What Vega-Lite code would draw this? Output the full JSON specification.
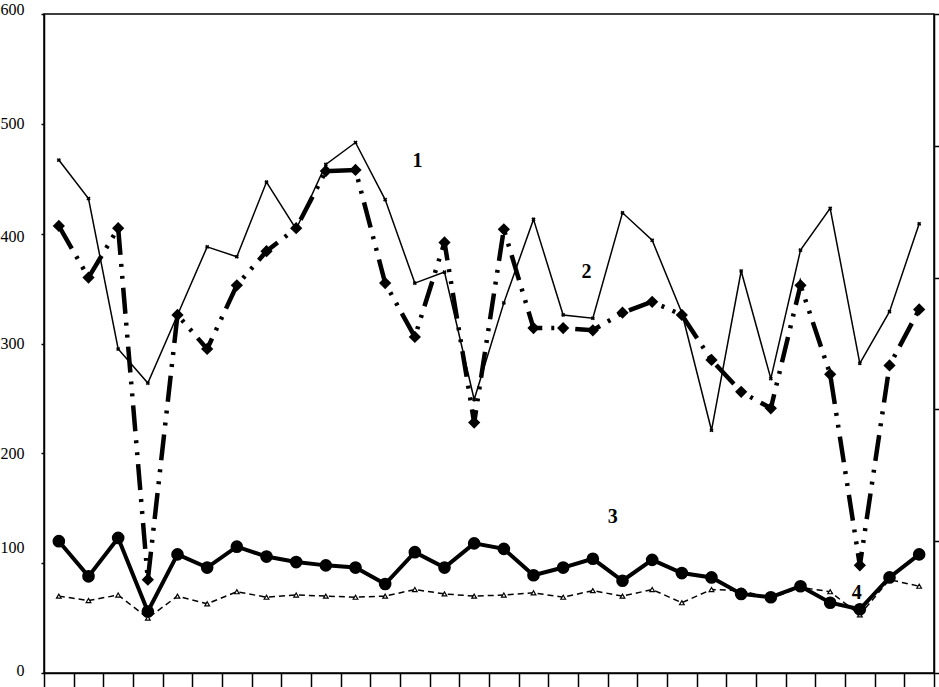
{
  "$schema": "https://vega.github.io/schema/vega-lite/v6.json",
  "autosize": "none",
  "width": 890,
  "height": 659,
  "padding": {"left": 44, "top": 14, "right": 5, "bottom": 14},
  "background": "white",
  "config": {
    "view": {"stroke": "black", "strokeWidth": 1.5},
    "font": "Liberation Serif"
  },
  "resolve": {"axis": {"y": "independent"}},
  "datasets": {
    "main": [
      {"n": 1, "s1": 467, "s2": 407, "s3": 120, "s4": 70},
      {"n": 2, "s1": 432, "s2": 360, "s3": 88, "s4": 66},
      {"n": 3, "s1": 295, "s2": 405, "s3": 123, "s4": 71},
      {"n": 4, "s1": 264, "s2": 85, "s3": 56, "s4": 50},
      {"n": 5, "s1": 326, "s2": 326, "s3": 108, "s4": 70},
      {"n": 6, "s1": 388, "s2": 295, "s3": 96, "s4": 63},
      {"n": 7, "s1": 379, "s2": 353, "s3": 115, "s4": 74},
      {"n": 8, "s1": 447, "s2": 384, "s3": 106, "s4": 69},
      {"n": 9, "s1": 404, "s2": 405, "s3": 101, "s4": 71},
      {"n": 10, "s1": 463, "s2": 457, "s3": 98, "s4": 70},
      {"n": 11, "s1": 483, "s2": 458, "s3": 96, "s4": 69},
      {"n": 12, "s1": 431, "s2": 355, "s3": 81, "s4": 70},
      {"n": 13, "s1": 355, "s2": 306, "s3": 110, "s4": 76},
      {"n": 14, "s1": 365, "s2": 392, "s3": 96, "s4": 72},
      {"n": 15, "s1": 249, "s2": 228, "s3": 118, "s4": 70},
      {"n": 16, "s1": 337, "s2": 404, "s3": 113, "s4": 71},
      {"n": 17, "s1": 413, "s2": 314, "s3": 89, "s4": 73},
      {"n": 18, "s1": 326, "s2": 314, "s3": 96, "s4": 69},
      {"n": 19, "s1": 323, "s2": 312, "s3": 104, "s4": 75},
      {"n": 20, "s1": 419, "s2": 328, "s3": 84, "s4": 70},
      {"n": 21, "s1": 394, "s2": 338, "s3": 103, "s4": 76},
      {"n": 22, "s1": 328, "s2": 326, "s3": 91, "s4": 64},
      {"n": 23, "s1": 221, "s2": 285, "s3": 87, "s4": 76},
      {"n": 24, "s1": 366, "s2": 256, "s3": 72, "s4": 75},
      {"n": 25, "s1": 268, "s2": 241, "s3": 69, "s4": 68},
      {"n": 26, "s1": 385, "s2": 353, "s3": 79, "s4": 78},
      {"n": 27, "s1": 423, "s2": 272, "s3": 64, "s4": 74},
      {"n": 28, "s1": 282, "s2": 98, "s3": 58, "s4": 53},
      {"n": 29, "s1": 329, "s2": 280, "s3": 87, "s4": 85},
      {"n": 30, "s1": 409, "s2": 331, "s3": 108, "s4": 79}
    ],
    "labels": [
      {"n": 13.09, "v": 466, "t": "1"},
      {"n": 18.79, "v": 365, "t": "2"},
      {"n": 19.67, "v": 142, "t": "3"},
      {"n": 27.9, "v": 73, "t": "4"}
    ]
  },
  "data": {"name": "main"},
  "encoding": {
    "x": {"field": "n", "type": "quantitative",
          "scale": {"domain": [0.5, 30.5], "nice": false, "zero": false},
          "axis": {"values": [0.5,1.5,2.5,3.5,4.5,5.5,6.5,7.5,8.5,9.5,10.5,11.5,12.5,13.5,14.5,15.5,16.5,17.5,18.5,19.5,20.5,21.5,22.5,23.5,24.5,25.5,26.5,27.5,28.5,29.5,30.5],
                   "labels": false, "title": null, "grid": false, "tickSize": 14, "tickColor": "black", "tickWidth": 1.5, "domainColor": "black", "domainWidth": 1.5}}
  },
  "layer": [
    {
      "mark": {"type": "rule", "opacity": 0},
      "encoding": {
        "y": {"field": "s1", "type": "quantitative",
              "scale": {"domain": [0, 600], "nice": false},
              "axis": {"orient": "left", "values": [0,100,200,300,400,500,600], "title": null, "grid": false,
                       "tickSize": 3, "tickColor": "black", "tickWidth": 1.5, "domainColor": "black", "domainWidth": 1.5,
                       "labelFont": "Liberation Serif", "labelFontSize": 16, "labelColor": "black",
                       "labelPadding": 17,
                       "labelOffset": {"condition": [
                         {"test": "datum.value == 600", "value": -5},
                         {"test": "datum.value == 100", "value": -16},
                         {"test": "datum.value == 400", "value": 3},
                         {"test": "datum.value == 0", "value": -3}
                       ], "value": 0},
                       "labelBound": false, "labelFlush": false, "labelOverlap": false}}
      }
    },
    {
      "mark": {"type": "rule", "opacity": 0},
      "encoding": {
        "y": {"field": "s1", "type": "quantitative",
              "axis": {"orient": "right", "values": [0,120,240,360,480,600], "labels": false, "title": null, "grid": false,
                       "tickSize": 6, "tickColor": "black", "tickWidth": 1.5, "domainColor": "black", "domainWidth": 1.5}}
      }
    },
    {
      "mark": {"type": "line", "color": "black", "strokeWidth": 1.5},
      "encoding": {
        "y": {"field": "s1", "type": "quantitative", "axis": null}
      }
    },
    {
      "mark": {"type": "point", "shape": "cross", "angle": 45, "filled": true, "color": "black", "size": 18, "opacity": 1},
      "encoding": {
        "y": {"field": "s1", "type": "quantitative", "axis": null}
      }
    },
    {
      "mark": {"type": "line", "color": "black", "strokeWidth": 4.5, "strokeDash": [26, 9, 3, 9, 3, 9]},
      "encoding": {
        "y": {"field": "s2", "type": "quantitative", "axis": null}
      }
    },
    {
      "mark": {"type": "point", "shape": "diamond", "filled": true, "color": "black", "size": 150, "opacity": 1},
      "encoding": {
        "y": {"field": "s2", "type": "quantitative", "axis": null}
      }
    },
    {
      "mark": {"type": "line", "color": "black", "strokeWidth": 1.5, "strokeDash": [6, 4]},
      "encoding": {
        "y": {"field": "s4", "type": "quantitative", "axis": null}
      }
    },
    {
      "mark": {"type": "point", "shape": "triangle-up", "filled": true, "fill": "white", "stroke": "black", "strokeWidth": 1.2, "size": 22, "opacity": 1},
      "encoding": {
        "y": {"field": "s4", "type": "quantitative", "axis": null}
      }
    },
    {
      "mark": {"type": "line", "color": "black", "strokeWidth": 4},
      "encoding": {
        "y": {"field": "s3", "type": "quantitative", "axis": null}
      }
    },
    {
      "mark": {"type": "point", "shape": "circle", "filled": true, "color": "black", "size": 160, "opacity": 1},
      "encoding": {
        "y": {"field": "s3", "type": "quantitative", "axis": null}
      }
    },
    {
      "data": {"name": "labels"},
      "mark": {"type": "text", "font": "Liberation Serif", "fontSize": 20, "fontWeight": "bold", "color": "black", "baseline": "middle", "align": "center"},
      "encoding": {
        "y": {"field": "v", "type": "quantitative", "axis": null},
        "text": {"field": "t"}
      }
    }
  ]
}
